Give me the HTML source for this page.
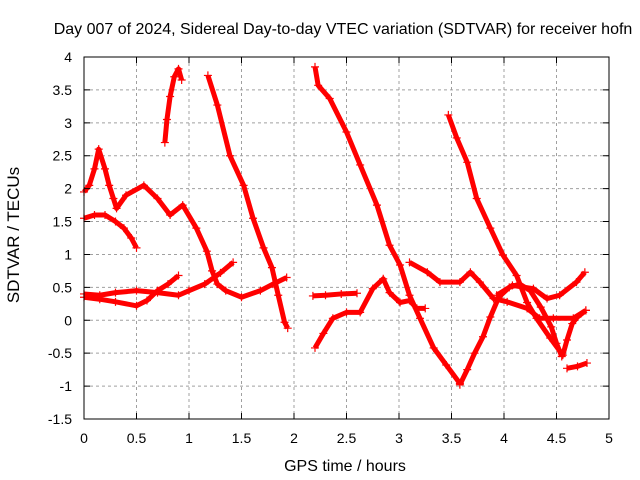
<!DOCTYPE html>
<html><head><meta charset="utf-8"><style>
body{margin:0;background:#fff}
svg{display:block;font-family:"Liberation Sans",sans-serif}
</style></head><body>
<svg id="chart" width="640" height="480" viewBox="0 0 640 480">
<rect width="640" height="480" fill="#fff"/>
<text x="343" y="34" text-anchor="middle" font-size="16">Day 007 of 2024, Sidereal Day-to-day VTEC variation (SDTVAR) for receiver hofn</text>
<text x="345" y="471" text-anchor="middle" font-size="16">GPS time / hours</text>
<text transform="translate(19,235) rotate(-90)" text-anchor="middle" font-size="17">SDTVAR / TECUs</text>
<g id="grid"></g><g id="marks"></g>
<rect x="84" y="57" width="525" height="362" fill="none" stroke="#000" stroke-width="1"/>
<g id="ticks"></g>
</svg>
<script>
const xTicks=[0,0.5,1,1.5,2,2.5,3,3.5,4,4.5,5];
const yTicks=[-1.5,-1,-0.5,0,0.5,1,1.5,2,2.5,3,3.5,4];
const trackA=[[0,1.95],[0.05,2.05],[0.1,2.3],[0.14,2.6],[0.2,2.3],[0.24,2.05],[0.28,1.85],[0.31,1.7],[0.4,1.9],[0.57,2.05],[0.7,1.85],[0.82,1.6],[0.94,1.75],[1.07,1.4],[1.17,1.05],[1.22,0.75],[1.27,0.55],[1.35,0.45],[1.5,0.35],[1.68,0.45],[1.8,0.55],[1.93,0.65]];
const trackB=[[0,1.55],[0.1,1.6],[0.2,1.6],[0.3,1.5],[0.38,1.4],[0.45,1.25],[0.5,1.1]];
const trackC1=[[0,0.4],[0.15,0.38],[0.3,0.42],[0.5,0.45],[0.7,0.42],[0.9,0.38],[1.0,0.45],[1.15,0.55],[1.3,0.72],[1.42,0.88]];
const trackC2=[[0,0.35],[0.15,0.32],[0.3,0.28],[0.5,0.22],[0.6,0.3],[0.7,0.45],[0.8,0.55],[0.9,0.68]];
const trackS=[[0.77,2.7],[0.79,3.05],[0.82,3.4],[0.86,3.7],[0.9,3.82],[0.93,3.65]];
const trackD1=[[1.18,3.72],[1.27,3.27],[1.39,2.5],[1.52,2.05],[1.61,1.55],[1.71,1.1],[1.79,0.8],[1.85,0.38],[1.91,-0.03],[1.94,-0.12]];
const trackD2=[[2.2,3.85],[2.23,3.57],[2.34,3.37],[2.5,2.86],[2.63,2.36],[2.79,1.75],[2.91,1.14],[3.01,0.84],[3.1,0.38],[3.2,0.03],[3.33,-0.42],[3.45,-0.68],[3.58,-0.96]];
const trackR=[[3.58,-0.98],[3.65,-0.75],[3.72,-0.5],[3.8,-0.25],[3.87,0.05],[3.95,0.35],[4.05,0.5],[4.15,0.55],[4.25,0.45],[4.35,0.2],[4.45,-0.1],[4.5,-0.35],[4.55,-0.55]];
const trackD3=[[3.47,3.12],[3.55,2.77],[3.65,2.4],[3.74,1.85],[3.87,1.4],[3.99,0.99],[4.12,0.68],[4.22,0.27],[4.31,0.03],[4.44,-0.27],[4.56,-0.53],[4.6,-0.3],[4.65,-0.05],[4.7,0.05],[4.78,0.15]];
const trackG=[[3.1,0.88],[3.27,0.73],[3.39,0.58],[3.58,0.58],[3.68,0.73],[3.77,0.58],[3.9,0.33],[4.03,0.28],[4.22,0.18],[4.34,0.03],[4.47,0.03],[4.66,0.03],[4.78,0.15]];
const trackH2=[[3.93,0.38],[4.08,0.53],[4.28,0.48],[4.41,0.33],[4.53,0.38],[4.69,0.58],[4.77,0.73]];
const trackI=[[4.6,-0.73],[4.7,-0.7],[4.79,-0.65]];
const trackJ=[[2.18,0.37],[2.3,0.38],[2.45,0.4],[2.6,0.41]];
const trackK=[[2.2,-0.42],[2.28,-0.2],[2.37,0.03],[2.5,0.12],[2.63,0.12],[2.75,0.48],[2.85,0.63],[2.91,0.42],[3.01,0.27],[3.1,0.3],[3.17,0.18],[3.25,0.18]];
const tracks=[trackA,trackB,trackC1,trackC2,trackS,trackD1,trackD2,trackR,trackD3,trackG,trackH2,trackI,trackJ,trackK];
const X0=84,X1=609,Y0=419,Y1=57;
function sx(t){return X0+(t-0)/(5-0)*(X1-X0);}
function sy(v){return Y0-(v+1.5)/(4+1.5)*(Y0-Y1);}
const NS="http://www.w3.org/2000/svg";
const grid=document.getElementById('grid'),ticks=document.getElementById('ticks'),marks=document.getElementById('marks');
xTicks.forEach(t=>{
 const x=sx(t);
 if(t>0&&t<5){const g=document.createElementNS(NS,'line');g.setAttribute('x1',x);g.setAttribute('x2',x);g.setAttribute('y1',Y1);g.setAttribute('y2',Y0);g.setAttribute('stroke','#a0a0a0');g.setAttribute('stroke-dasharray','3,3');
 
 grid.appendChild(g);}
 const tk=document.createElementNS(NS,'path');tk.setAttribute('d',`M${x},${Y0}v-6M${x},${Y1}v6`);tk.setAttribute('stroke','#000');
 
 ticks.appendChild(tk);
 const tx=document.createElementNS(NS,'text');tx.setAttribute('x',x);tx.setAttribute('y',443);tx.setAttribute('text-anchor','middle');tx.setAttribute('font-size','14');tx.textContent=String(t);
 
 ticks.appendChild(tx);
});
yTicks.forEach(v=>{
 const y=sy(v);
 if(v>-1.5&&v<4){const g=document.createElementNS(NS,'line');g.setAttribute('x1',X0);g.setAttribute('x2',X1);g.setAttribute('y1',y);g.setAttribute('y2',y);g.setAttribute('stroke','#a0a0a0');g.setAttribute('stroke-dasharray','3,3');
 
 grid.appendChild(g);}
 const tk=document.createElementNS(NS,'path');tk.setAttribute('d',`M${X0},${y}h6M${X1},${y}h-6`);tk.setAttribute('stroke','#000');
 
 ticks.appendChild(tk);
 const tx=document.createElementNS(NS,'text');tx.setAttribute('x',72);tx.setAttribute('y',y+5);tx.setAttribute('text-anchor','end');tx.setAttribute('font-size','14');tx.textContent=String(v);
 
 ticks.appendChild(tx);
});
tracks.forEach(tr=>{
 const pl=document.createElementNS(NS,'polyline');
 pl.setAttribute('points',tr.map(p=>sx(p[0])+','+sy(p[1])).join(' '));
 pl.setAttribute('fill','none');pl.setAttribute('stroke','#ff0000');pl.setAttribute('stroke-width','5');pl.setAttribute('stroke-linejoin','round');
 
 
 marks.appendChild(pl);
 tr.forEach(p=>{
  const x=sx(p[0]),y=sy(p[1]);
  const c=document.createElementNS(NS,'path');
  c.setAttribute('d',`M${x-4},${y}h8M${x},${y-4}v8`);c.setAttribute('stroke','#ff0000');c.setAttribute('stroke-width','1.2');
  
  
  marks.appendChild(c);
 });
});
</script>
</body></html>
